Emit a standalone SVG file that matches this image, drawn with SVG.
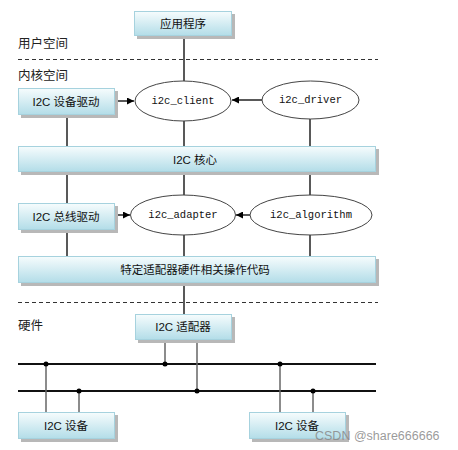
<svg xmlns="http://www.w3.org/2000/svg" width="458" height="450" viewBox="0 0 458 450">
<defs>
<linearGradient id="g" x1="0" y1="0" x2="0" y2="1">
<stop offset="0" stop-color="#f6fcfd"/>
<stop offset="1" stop-color="#b3dde8"/>
</linearGradient>
<marker id="ah" viewBox="0 0 10 10" refX="10" refY="5" markerWidth="7" markerHeight="7" markerUnits="userSpaceOnUse" orient="auto">
<path d="M0,0 L10,5 L0,10 z" fill="#000"/>
</marker>
</defs>
<style>
.box{fill:url(#g);stroke:#a6d2de;stroke-width:1}
.sh{fill:#b8b8b8}
.t{font-family:"Liberation Sans","Noto Sans CJK SC",sans-serif;font-size:11.5px;fill:#111;text-anchor:middle;dominant-baseline:central}
.lab{font-family:"Noto Sans CJK SC",sans-serif;font-size:12.5px;fill:#222}
.m{font-family:"Liberation Mono","DejaVu Sans Mono",monospace;font-size:10.5px;fill:#111;text-anchor:middle;dominant-baseline:central}
.el{fill:#fff;stroke:#444;stroke-width:1}
.ln{stroke:#222;stroke-width:1.5;fill:none}
.bus{stroke:#111;stroke-width:2;fill:none}
.dv{stroke:#666;stroke-width:1.5;fill:none}
.dash{stroke:#333;stroke-width:1;stroke-dasharray:4,3;fill:none}
.dot{fill:#000}
</style>
<g id="labels">
<text class="lab" x="18" y="48">用户空间</text>
<text class="lab" x="18" y="80">内核空间</text>
<text class="lab" x="18" y="330">硬件</text>
<line class="dash" x1="18" y1="59.5" x2="378" y2="59.5"/>
<line class="dash" x1="18" y1="302.5" x2="378" y2="302.5"/>
</g>
<g id="connectors">
<line class="ln" x1="184" y1="36" x2="184" y2="81"/>
<line class="ln" x1="184" y1="121" x2="184" y2="146"/>
<line class="ln" x1="67" y1="115" x2="67" y2="146"/>
<line class="ln" x1="310" y1="119" x2="310" y2="146"/>
<line class="ln" x1="115" y1="101" x2="134" y2="101" marker-end="url(#ah)"/>
<line class="ln" x1="262" y1="100" x2="232" y2="100" marker-end="url(#ah)"/>
<line class="ln" x1="67" y1="172" x2="67" y2="203"/>
<line class="ln" x1="184" y1="172" x2="184" y2="195"/>
<line class="ln" x1="310" y1="172" x2="310" y2="195"/>
<line class="ln" x1="67" y1="230" x2="67" y2="256"/>
<line class="ln" x1="184" y1="235" x2="184" y2="256"/>
<line class="ln" x1="310" y1="235" x2="310" y2="256"/>
<line class="ln" x1="115" y1="215" x2="130" y2="215" marker-end="url(#ah)"/>
<line class="ln" x1="250" y1="215" x2="236" y2="215" marker-end="url(#ah)"/>
<line class="ln" x1="184" y1="283" x2="184" y2="314"/>
<line class="bus" x1="18" y1="364" x2="376" y2="364"/>
<line class="bus" x1="18" y1="391" x2="376" y2="391"/>
<line class="dv" x1="165" y1="340" x2="165" y2="364"/>
<line class="dv" x1="197" y1="340" x2="197" y2="391"/>
<line class="dv" x1="46" y1="364" x2="46" y2="412"/>
<line class="dv" x1="79" y1="391" x2="79" y2="412"/>
<line class="dv" x1="280" y1="364" x2="280" y2="412"/>
<line class="dv" x1="313" y1="391" x2="313" y2="412"/>
<circle class="dot" cx="165" cy="364" r="2.5"/>
<circle class="dot" cx="197" cy="391" r="2.5"/>
<circle class="dot" cx="46" cy="364" r="2.5"/>
<circle class="dot" cx="79" cy="391" r="2.5"/>
<circle class="dot" cx="280" cy="364" r="2.5"/>
<circle class="dot" cx="313" cy="391" r="2.5"/>
</g>
<g id="app">
<rect class="sh" x="137" y="14" width="98" height="25"/>
<rect class="box" x="134.5" y="11.5" width="97" height="24"/>
<text class="t" x="183" y="24">应用程序</text>
</g>
<g id="dev-driver">
<rect class="sh" x="21" y="91" width="97" height="27"/>
<rect class="box" x="18.5" y="88.5" width="96" height="26"/>
<text class="t" x="66" y="102">I2C 设备驱动</text>
</g>
<g id="i2c_client">
<ellipse class="el" cx="183" cy="101" rx="48" ry="20"/>
<text class="m" x="183" y="101">i2c_client</text>
</g>
<g id="i2c_driver">
<ellipse class="el" cx="310.5" cy="100" rx="48.5" ry="19"/>
<text class="m" x="310.5" y="100">i2c_driver</text>
</g>
<g id="core">
<rect class="sh" x="21" y="149" width="358" height="26"/>
<rect class="box" x="18.5" y="146.5" width="357" height="25"/>
<text class="t" x="195" y="160">I2C 核心</text>
</g>
<g id="bus-driver">
<rect class="sh" x="21" y="206" width="97" height="27"/>
<rect class="box" x="18.5" y="203.5" width="96" height="26"/>
<text class="t" x="66" y="217">I2C 总线驱动</text>
</g>
<g id="i2c_adapter">
<ellipse class="el" cx="183" cy="215" rx="52.5" ry="20"/>
<text class="m" x="183" y="215">i2c_adapter</text>
</g>
<g id="i2c_algorithm">
<ellipse class="el" cx="311" cy="215" rx="61" ry="20"/>
<text class="m" x="311" y="215">i2c_algorithm</text>
</g>
<g id="hw-code">
<rect class="sh" x="21" y="259" width="358" height="27"/>
<rect class="box" x="18.5" y="256.5" width="357" height="26"/>
<text class="t" x="195" y="270">特定适配器硬件相关操作代码</text>
</g>
<g id="adapter-hw">
<rect class="sh" x="138" y="317" width="97" height="26"/>
<rect class="box" x="135.5" y="314.5" width="96" height="25"/>
<text class="t" x="183" y="327">I2C 适配器</text>
</g>
<g id="dev1">
<rect class="sh" x="21" y="415" width="97" height="27"/>
<rect class="box" x="18.5" y="412.5" width="96" height="26"/>
<text class="t" x="66" y="426">I2C 设备</text>
</g>
<g id="dev2">
<rect class="sh" x="252" y="415" width="97" height="27"/>
<rect class="box" x="249.5" y="412.5" width="96" height="26"/>
<text class="t" x="297" y="426">I2C 设备</text>
</g>
<text x="315" y="440" font-family="'Liberation Sans',sans-serif" font-size="12.5" fill="#888" fill-opacity="0.85">CSDN @share666666</text>
</svg>
